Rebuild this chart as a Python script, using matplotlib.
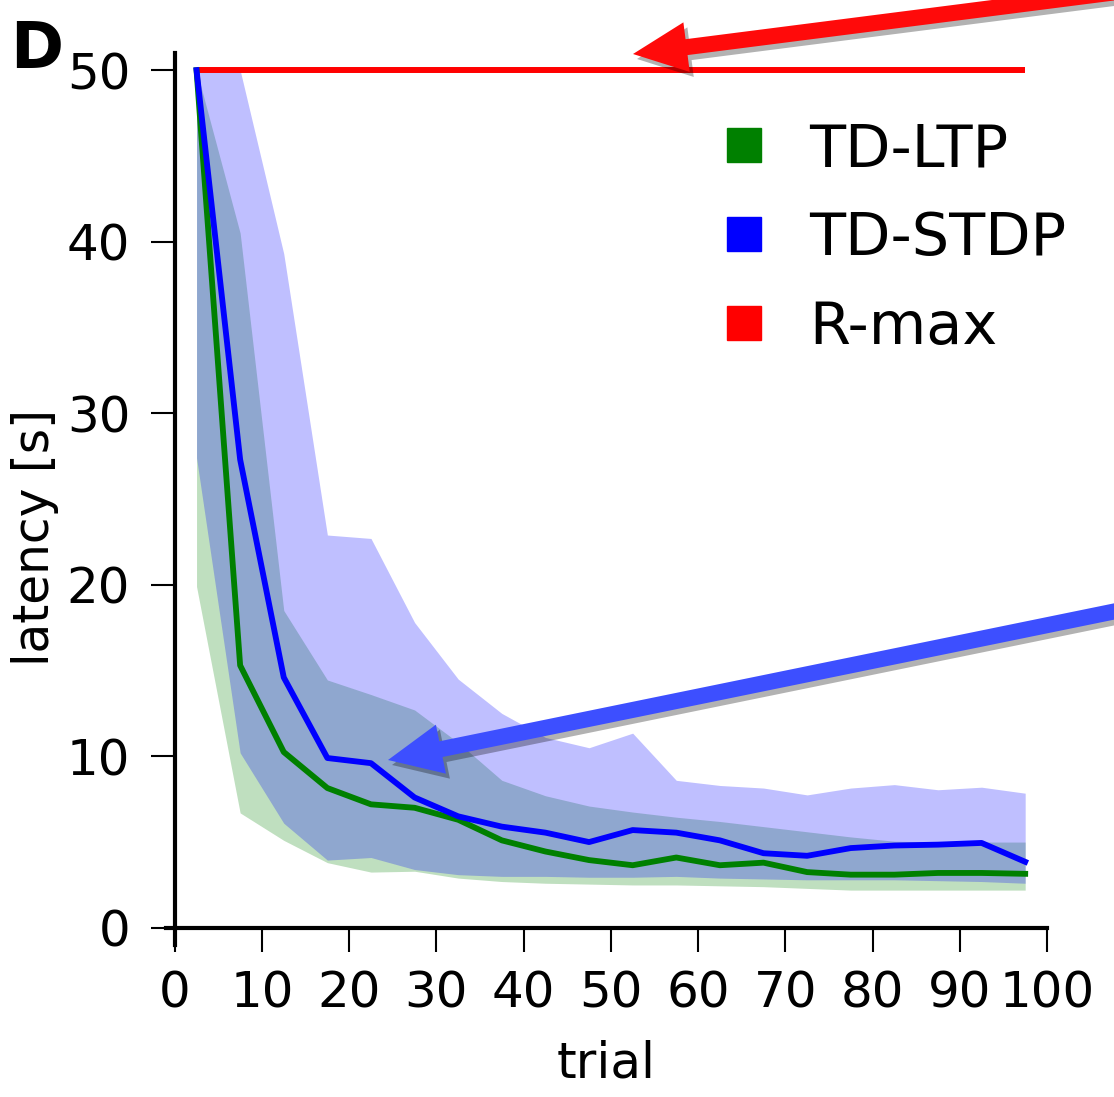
import matplotlib
matplotlib.use("Agg")
import matplotlib.pyplot as plt
from matplotlib.lines import Line2D
from matplotlib.patches import FancyArrow

# trial bins (centres) and latency values
trial = [2.5, 7.5, 12.5, 17.5, 22.5, 27.5, 32.5, 37.5, 42.5, 47.5,
         52.5, 57.5, 62.5, 67.5, 72.5, 77.5, 82.5, 87.5, 92.5, 97.5]

td_ltp = [50, 15.3, 10.25, 8.15, 7.2, 7.0, 6.3, 5.1, 4.45, 3.95,
          3.65, 4.1, 3.65, 3.8, 3.25, 3.1, 3.1, 3.2, 3.2, 3.15]
td_ltp_lo = [19.9, 6.7, 5.1, 3.8, 3.25, 3.3, 2.9, 2.7, 2.6, 2.55,
             2.5, 2.5, 2.45, 2.4, 2.3, 2.2, 2.2, 2.2, 2.2, 2.2]
td_ltp_hi = [50, 40.5, 18.5, 14.45, 13.6, 12.7, 10.8, 8.6, 7.7, 7.1,
             6.75, 6.45, 6.2, 5.9, 5.6, 5.3, 5.05, 5.0, 5.0, 5.0]

td_stdp = [50, 27.3, 14.6, 9.9, 9.6, 7.6, 6.5, 5.9, 5.55, 5.0,
           5.7, 5.55, 5.1, 4.35, 4.2, 4.65, 4.8, 4.85, 4.95, 3.85]
td_stdp_lo = [27.4, 10.2, 6.1, 3.95, 4.1, 3.4, 3.1, 3.0, 3.0, 2.95,
              2.95, 3.0, 2.9, 2.85, 2.8, 2.8, 2.8, 2.75, 2.7, 2.6]
td_stdp_hi = [50, 50, 39.3, 22.9, 22.7, 17.8, 14.5, 12.5, 11.1, 10.5,
              11.35, 8.6, 8.3, 8.15, 7.75, 8.15, 8.35, 8.05, 8.2, 7.85]

r_max = [50, 50, 50, 50, 50, 50, 50, 50, 50, 50,
         50, 50, 50, 50, 50, 50, 50, 50, 50, 50]

labels = ["TD-LTP", "TD-STDP", "R-max"]
colors = ["green", "blue", "red"]

W, H = 1114, 1097
fig = plt.figure(figsize=(W / 100, H / 100), dpi=100)
ax = fig.add_axes([166 / W, 1 - 945 / H, (1047 - 166) / W, (945 - 53) / H])

ax.fill_between(trial, td_ltp_lo, td_ltp_hi, color="green", alpha=0.25, lw=0)
ax.fill_between(trial, td_stdp_lo, td_stdp_hi, color="blue", alpha=0.25, lw=0)
ax.plot(trial, r_max, color="red", lw=4.3, solid_capstyle="butt")
ax.plot(trial, td_ltp, color="green", lw=4.2)
ax.plot(trial, td_stdp, color="blue", lw=4.2)

ax.set_xlim(-1, 100)
ax.set_ylim(-1, 51)
ax.spines["left"].set_position(("data", 0))
ax.spines["bottom"].set_position(("data", 0))
ax.spines["top"].set_visible(False)
ax.spines["right"].set_visible(False)
for s in ["left", "bottom"]:
    ax.spines[s].set_linewidth(3)
ax.set_xticks(range(0, 101, 10))
ax.set_yticks(range(0, 51, 10))
ax.tick_params(direction="out", length=17, width=1.5, labelsize=36, pad=15)
ax.tick_params(axis="x", pad=13)
ax.set_xlabel("trial", fontsize=36, labelpad=16)
ax.set_ylabel("latency [s]", fontsize=35)
ax.yaxis.set_label_coords(-0.121, 0.457)

handles = [Line2D([], [], ls="", marker="s", markersize=24, color=c) for c in colors]
fig.legend(handles, labels, loc="upper left", bbox_to_anchor=(0.594, 0.938),
           frameon=False, fontsize=42.5, handletextpad=0.6, labelspacing=0.54,
           handlelength=1.0)

fig.text(10 / W, 1 - 68 / H, "D", fontsize=46, fontweight="bold", va="baseline")

# overlay for the arrows, in pixel coordinates
ov = fig.add_axes([0, 0, 1, 1])
ov.set_xlim(0, W)
ov.set_ylim(H, 0)
ov.axis("off")
ov.patch.set_alpha(0)

arrows = [((1180, -16), (633, 54), "#ff0a0a"),
          ((1180, 598), (388, 760), "#3d4fff")]
for (x0, y0), (x1, y1), c in arrows:
    for off, col, z in [((4, 5), (0, 0, 0, 0.3), 1), ((0, 0), c, 2)]:
        ov.add_patch(FancyArrow(x0 + off[0], y0 + off[1], x1 - x0, y1 - y0,
                                width=16, head_width=50, head_length=54,
                                length_includes_head=True, color=col,
                                lw=0, zorder=z))

fig.savefig("out.png", dpi=100)
